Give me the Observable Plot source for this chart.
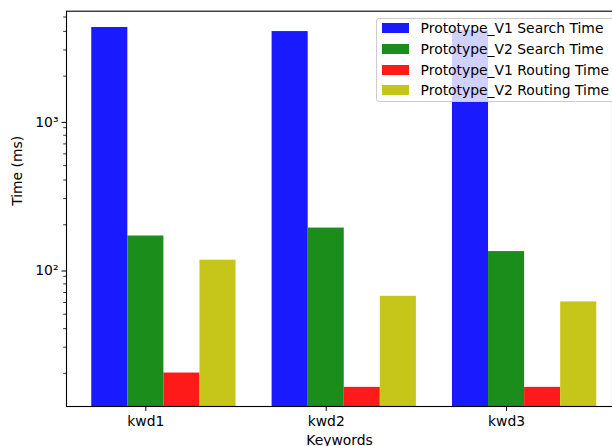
<!DOCTYPE html>
<html><head><meta charset="utf-8">
<script src="https://cdn.jsdelivr.net/npm/d3@7"></script>
<script src="https://cdn.jsdelivr.net/npm/@observablehq/plot@0.6"></script>
<style>
body{margin:0;background:#fff;}
#wrap{position:relative;width:612px;height:446px;overflow:hidden;font-family:"DejaVu Sans",sans-serif;color:#000;}
#legend{position:absolute;left:376px;top:17.5px;width:239px;height:84.5px;box-sizing:border-box;background:rgba(255,255,255,0.8);border:1px solid #cccccc;border-radius:3px;}
.row{position:absolute;left:0;height:20px;}
.sw{position:absolute;left:4.7px;width:27.8px;height:9.7px;}
.lt{position:absolute;left:43.6px;font-size:13.9px;line-height:20px;white-space:nowrap;}
</style></head><body><div id="wrap"></div>
<script>
const keywords = ["kwd1", "kwd2", "kwd3"];
const seriesNames = ["Prototype_V1 Search Time", "Prototype_V2 Search Time", "Prototype_V1 Routing Time", "Prototype_V2 Routing Time"];
const seriesColors = ["#1a1aff", "#1a8d1a", "#ff1a1a", "#c5c51a"];
const v1Search = [4250, 3990, 4060];
const v2Search = [168, 190, 132];
const v1Routing = [20.1, 16.1, 16.1];
const v2Routing = [115.5, 66, 60.5];
const yMajorTicks = [100, 1000];
const yMajorLabels = ["10\u00b2", "10\u00b3"];
const yMinorTicks = [20, 30, 40, 50, 60, 70, 80, 90, 200, 300, 400, 500, 600, 700, 800, 900, 2000, 3000, 4000, 5000];
const xLabel = "Keywords";
const yLabel = "Time (ms)";

const seriesValues = [v1Search, v2Search, v1Routing, v2Routing];
const barW = 0.2;
const yDomain = [11.97, 5470];
const rows = [];
keywords.forEach((k, i) => {
  seriesValues.forEach((vals, j) => {
    const c = i + j * barW;
    rows.push({keyword: k, series: seriesNames[j], color: seriesColors[j], x1: c - barW / 2, x2: c + barW / 2, value: vals[i]});
  });
});
const tickPos = keywords.map((k, i) => i + barW);

const chart = Plot.plot({
  width: 612, height: 446,
  marginTop: 10.7, marginBottom: 40, marginLeft: 66, marginRight: 0,
  style: {fontFamily: "DejaVu Sans", fontSize: "13.9px", background: "white", color: "black", overflow: "visible"},
  x: {type: "linear", domain: [-0.24, 2.84], range: [66, 621.5], label: null},
  y: {type: "log", domain: yDomain, range: [406, 10.7], label: null},
  marks: [
    Plot.rect(rows, {x1: "x1", x2: "x2", y1: yDomain[0], y2: "value", fill: "color"}),
    Plot.axisY(yMinorTicks, {tickSize: 2.8, tickFormat: () => "", label: null, strokeWidth: 0.8}),
    Plot.axisY(yMajorTicks, {tickSize: 4.5, tickPadding: 3.5, tickFormat: (d) => yMajorLabels[yMajorTicks.indexOf(d)], label: null, strokeWidth: 1, fontSize: 13.9, dy: 1.5}),
    Plot.axisX(tickPos, {tickSize: 4.9, tickPadding: 5, tickFormat: (d) => keywords[Math.round(d - barW)], label: null, strokeWidth: 1, fontSize: 13.9}),
    Plot.frame({stroke: "black", strokeWidth: 1.1}),
    Plot.text([xLabel], {frameAnchor: "bottom", text: (d) => d, lineAnchor: "bottom", dy: 38.5, fontSize: 13.9, fill: "black"}),
    Plot.text([yLabel], {frameAnchor: "left", text: (d) => d, rotate: -90, dx: -48.7, dy: -3, fontSize: 13.9, fill: "black"})
  ]
});
const wrap = document.getElementById("wrap");
wrap.appendChild(chart);

const legend = document.createElement("div");
legend.id = "legend";
const centers = [9.8, 30.5, 51.2, 71.8];
seriesNames.forEach((name, j) => {
  const row = document.createElement("div");
  row.className = "row";
  row.style.top = (centers[j] - 10) + "px";
  row.style.width = "100%";
  const sw = document.createElement("div");
  sw.className = "sw";
  sw.style.top = (10 - 4.85) + "px";
  sw.style.background = seriesColors[j];
  const lt = document.createElement("div");
  lt.className = "lt";
  lt.style.top = "0px";
  lt.textContent = name;
  row.appendChild(sw);
  row.appendChild(lt);
  legend.appendChild(row);
});
wrap.appendChild(legend);
</script>
</body></html>
